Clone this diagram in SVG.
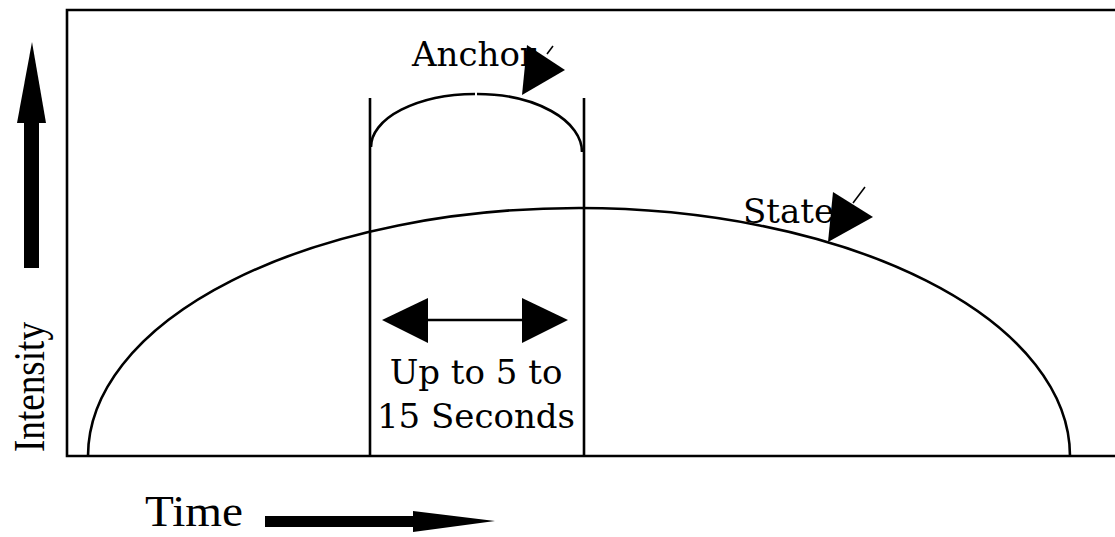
<svg xmlns="http://www.w3.org/2000/svg" width="1115" height="537" viewBox="0 0 1115 537">
<style>
.ln{fill:none;stroke:#000;stroke-width:2.6}
.thin{fill:none;stroke:#000;stroke-width:1.5}
.fill{fill:#000;stroke:none}
.lbl{font-family:"DejaVu Serif","Liberation Serif",serif;font-size:34px;fill:#000}
.axis{font-family:"Liberation Serif","Times New Roman",serif;font-size:45px;fill:#000}
</style>
<rect width="1115" height="537" fill="#fff"/>
<g id="frame">
<path class="ln" d="M1120,10 H67 V456 H1120"/>
</g>
<g id="state-curve">
<path class="ln" d="M88,456 A491,248 0 0 1 1070,456"/>
</g>
<g id="anchor-window">
<path class="ln" d="M370,98 V456 M584,98 V456"/>
<path class="ln" d="M371,147 A105,53 0 0 1 475,94"/>
<path class="ln" d="M477,94 A105,58 0 0 1 582,152"/>
</g>
<g id="anchor-label">
<text class="lbl" x="412" y="66">Anchor</text>
</g>
<g id="state-label">
<text class="lbl" x="743" y="223">State</text>
</g>
<g id="duration-label">
<text class="lbl" x="476" y="384" text-anchor="middle">Up to 5 to</text>
<text class="lbl" x="476" y="428" text-anchor="middle">15 Seconds</text>
</g>
<g id="intensity-axis">
<text class="axis" transform="translate(44,452) rotate(-90)" textLength="130" lengthAdjust="spacingAndGlyphs">Intensity</text>
<rect class="fill" x="24" y="122" width="15" height="146"/>
<polygon class="fill" points="32,42 46,123 17,123"/>
</g>
<g id="time-axis">
<text class="axis" x="145" y="526" textLength="98" lengthAdjust="spacingAndGlyphs">Time</text>
<rect class="fill" x="265" y="516" width="150" height="11"/>
<polygon class="fill" points="413,511 495,521 413,532"/>
</g>
<g id="connectors">
<line class="thin" x1="547" y1="54" x2="553" y2="46"/>
<polygon class="fill" points="527,45 565,70 522,95"/>
<line class="thin" x1="853" y1="203" x2="865" y2="187"/>
<polygon class="fill" points="833,192 873,217 828,242"/>
<line class="ln" x1="426" y1="320" x2="524" y2="320"/>
<polygon class="fill" points="382,320 428,298 428,343"/>
<polygon class="fill" points="568,320 522,298 522,343"/>
</g>
</svg>
